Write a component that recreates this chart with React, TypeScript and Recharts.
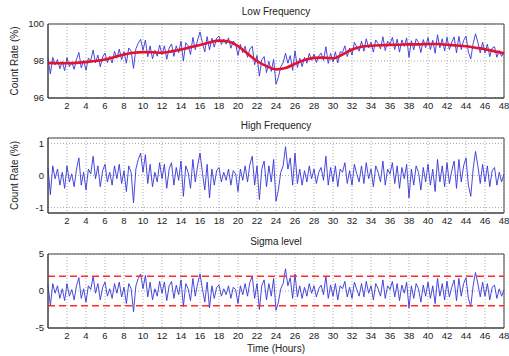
import React from 'react';
import {
  LineChart,
  Line,
  XAxis,
  YAxis,
  CartesianGrid,
  ReferenceLine,
  ReferenceArea,
} from 'recharts';

// sample spacing of the blue traces (hours)
const SAMPLE_STEP = 0.25;

// Low frequency panel: raw count rate (%), one value per quarter hour
const lowRaw = [
  98.15, 97.30, 98.19, 97.79, 98.08, 97.58, 97.98, 97.48, 98.18, 97.69, 97.94, 97.55,
  98.10, 98.46, 97.63, 98.04, 97.50, 98.16, 98.03, 98.59, 97.90, 98.32, 97.69, 98.21,
  98.43, 97.92, 98.25, 97.89, 98.52, 98.15, 98.64, 98.07, 98.50, 97.88, 98.70, 98.53,
  97.60, 98.66, 98.97, 99.17, 98.58, 99.13, 98.23, 98.82, 98.12, 98.57, 98.26, 98.86,
  98.35, 98.82, 98.09, 98.70, 98.92, 98.25, 98.82, 98.45, 99.07, 98.00, 98.99, 98.82,
  98.35, 99.28, 98.61, 99.14, 99.57, 99.00, 98.49, 99.32, 98.60, 99.23, 98.75, 99.23,
  99.35, 98.89, 99.18, 98.91, 99.25, 98.69, 99.08, 98.91, 98.30, 98.90, 98.45, 98.80,
  98.20, 98.65, 98.80, 97.80, 98.30, 97.18, 98.06, 98.24, 97.37, 97.98, 97.44, 98.09,
  96.75, 97.12, 97.69, 97.90, 98.42, 97.88, 98.29, 97.49, 98.55, 97.65, 98.15, 97.70,
  98.20, 97.88, 98.41, 98.04, 98.37, 97.92, 98.27, 98.43, 98.03, 98.77, 97.87, 98.41,
  97.95, 98.50, 97.90, 98.50, 98.45, 98.82, 98.24, 98.70, 98.32, 99.01, 98.75, 98.53,
  99.07, 98.53, 99.20, 98.71, 99.02, 98.48, 99.14, 98.94, 98.65, 99.31, 98.56, 99.07,
  98.92, 99.27, 98.62, 99.18, 98.48, 99.14, 98.79, 99.25, 98.20, 99.10, 98.60, 99.20,
  99.00, 98.46, 99.16, 98.72, 99.27, 98.62, 99.12, 98.42, 99.42, 98.71, 99.20, 98.54,
  99.28, 98.62, 99.01, 99.30, 98.44, 99.33, 98.62, 99.11, 99.35, 98.48, 98.11, 98.94,
  99.47, 99.00, 98.43, 99.01, 98.44, 98.91, 98.23, 98.70, 98.77, 98.20, 98.57, 98.25,
  98.47,
];

// Low frequency panel: smoothed trend (%), one value per hour
const lowTrend = [
  97.9, 97.88, 97.88, 97.9, 97.95, 98.0, 98.08, 98.22, 98.35, 98.45, 98.48, 98.47,
  98.45, 98.52, 98.62, 98.75, 98.87, 99.0, 99.1, 99.05, 98.8, 98.4, 98.0, 97.72,
  97.55, 97.62, 97.85, 98.05, 98.17, 98.18, 98.15, 98.35, 98.62, 98.77, 98.82, 98.85,
  98.87, 98.88, 98.9, 98.9, 98.92, 98.92, 98.88, 98.84, 98.8, 98.72, 98.64, 98.52,
  98.42,
];

// High frequency panel (%), one value per quarter hour
const highFreq = [
  0.25, -0.6, 0.3, -0.1, 0.2, -0.3, 0.1, -0.4, 0.3, -0.2, 0.05, -0.35,
  0.2, 0.55, -0.3, 0.1, -0.45, 0.2, 0.05, 0.6, -0.1, 0.3, -0.35, 0.15,
  0.35, -0.2, 0.1, -0.3, 0.3, -0.1, 0.35, -0.25, 0.15, -0.5, 0.3, 0.1,
  -0.85, 0.2, 0.5, 0.7, 0.1, 0.65, -0.25, 0.35, -0.35, 0.1, -0.2, 0.4,
  -0.1, 0.35, -0.4, 0.2, 0.4, -0.3, 0.25, -0.15, 0.45, -0.65, 0.3, 0.1,
  -0.4, 0.5, -0.2, 0.3, 0.7, 0.1, -0.45, 0.35, -0.7, 0.2, -0.3, 0.15,
  0.25, -0.2, 0.1, -0.15, 0.2, -0.3, 0.15, 0.05, -0.5, 0.2, -0.15, 0.3,
  -0.2, 0.35, 0.6, -0.3, 0.3, -0.75, 0.2, 0.45, -0.35, 0.3, -0.2, 0.5,
  -0.8, -0.45, 0.1, 0.3, 0.9, 0.2, 0.55, -0.3, 0.7, -0.25, 0.2, -0.3,
  0.15, -0.2, 0.3, -0.1, 0.2, -0.25, 0.1, 0.25, -0.15, 0.6, -0.3, 0.25,
  -0.2, 0.3, -0.35, 0.2, 0.1, 0.4, -0.25, 0.15, -0.3, 0.35, 0.05, -0.2,
  0.3, -0.25, 0.4, -0.1, 0.2, -0.35, 0.3, 0.1, -0.2, 0.45, -0.3, 0.2,
  0.05, 0.4, -0.25, 0.3, -0.4, 0.25, -0.1, 0.35, -0.7, 0.2, -0.3, 0.3,
  0.1, -0.45, 0.25, -0.2, 0.35, -0.3, 0.2, -0.5, 0.5, -0.2, 0.3, -0.35,
  0.4, -0.25, 0.15, 0.45, -0.4, 0.5, -0.2, 0.3, 0.55, -0.3, -0.65, 0.2,
  0.75, 0.3, -0.25, 0.35, -0.2, 0.3, -0.35, 0.15, 0.25, -0.3, 0.1, -0.2,
  0.05,
];

// Sigma level panel, one value per quarter hour
const sigmaLevel = [
  0.8, -2.0, 1.0, -0.3, 0.7, -1.0, 0.3, -1.3, 1.0, -0.7, 0.2, -1.2,
  0.7, 1.8, -1.0, 0.3, -1.5, 0.7, 0.2, 2.0, -0.3, 1.0, -1.2, 0.5,
  1.2, -0.7, 0.3, -1.0, 1.0, -0.3, 1.2, -0.8, 0.5, -1.7, 1.0, 0.3,
  -2.8, 0.7, 1.7, 2.3, 0.3, 2.1, -0.8, 1.2, -1.2, 0.3, -0.7, 1.3,
  -0.3, 1.2, -1.3, 0.7, 1.3, -1.0, 0.8, -0.5, 1.5, -2.1, 1.0, 0.3,
  -1.3, 1.7, -0.7, 1.0, 2.3, 0.3, -1.5, 1.2, -2.3, 0.7, -1.0, 0.5,
  0.8, -0.7, 0.3, -0.5, 0.7, -1.0, 0.5, 0.2, -1.7, 0.7, -0.5, 1.0,
  -0.7, 1.2, 2.0, -1.0, 1.0, -2.5, 0.7, 1.5, -1.2, 1.0, -0.7, 1.7,
  -2.6, -1.5, 0.3, 1.0, 3.0, 0.7, 1.8, -1.0, 2.3, -0.8, 0.7, -1.0,
  0.5, -0.7, 1.0, -0.3, 0.7, -0.8, 0.3, 0.8, -0.5, 2.0, -1.0, 0.8,
  -0.7, 1.0, -1.2, 0.7, 0.3, 1.3, -0.8, 0.5, -1.0, 1.2, 0.2, -0.7,
  1.0, -0.8, 1.3, -0.3, 0.7, -1.2, 1.0, 0.3, -0.7, 1.5, -1.0, 0.7,
  0.2, 1.3, -0.8, 1.0, -1.3, 0.8, -0.3, 1.2, -2.3, 0.7, -1.0, 1.0,
  0.3, -1.5, 0.8, -0.7, 1.2, -1.0, 0.7, -1.7, 1.7, -0.7, 1.0, -1.2,
  1.3, -0.8, 0.5, 1.5, -1.3, 1.7, -0.7, 1.0, 1.8, -1.0, -2.1, 0.7,
  2.5, 1.0, -0.8, 1.2, -0.7, 1.0, -1.2, 0.5, 0.8, -1.0, 0.3, -0.7,
  0.2,
];

const sigmaLimits = [2, -2];

const hourTicks = [2, 4, 6, 8, 10, 12, 14, 16, 18, 20, 22, 24, 26, 28, 30, 32, 34, 36, 38, 40, 42, 44, 46, 48];
const lowTicks = [96, 98, 100];
const highTicks = [-1, 0, 1];
const sigmaTicks = [-5, 0, 5];

const rows = lowRaw.map((v, i) => ({
  t: i * SAMPLE_STEP,
  raw: v,
  hf: highFreq[i],
  sigma: sigmaLevel[i],
  trend: i % 4 === 0 ? lowTrend[i / 4] : null,
}));

const FONT = '"Liberation Sans", Arial, sans-serif';
const BLUE = '#3434d8';
const tickStyle = { fontSize: 9.5, fill: '#222', fontFamily: FONT };

const Panel = ({
  top,
  height,
  marginTop,
  xHeight,
  title,
  domain,
  yTicks,
  dataKey,
  yLabel,
  xLabel,
  children,
}: any) => (
  <div style={{ position: 'absolute', left: 0, top, width: 509, height }}>
    <div
      style={{
        position: 'absolute',
        left: 48,
        width: 456,
        top: marginTop - 18,
        textAlign: 'center',
        fontFamily: FONT,
        fontSize: 10,
        color: '#222',
      }}
    >
      {title}
    </div>
    <LineChart width={509} height={height} data={rows} margin={{ top: marginTop, right: 5, bottom: 0, left: 0 }}>
      <CartesianGrid stroke="#aaa" strokeDasharray="1 2" />
      <XAxis
        dataKey="t"
        type="number"
        domain={[0, 48]}
        ticks={hourTicks}
        interval={0}
        height={xHeight}
        tickSize={3}
        tickMargin={1}
        tickLine={false}
        axisLine={{ stroke: '#444' }}
        tick={tickStyle}
        label={xLabel ? { value: xLabel, position: 'insideBottom', offset: 4, style: { fontSize: 10, fill: '#222', fontFamily: FONT } } : undefined}
      />
      <YAxis
        type="number"
        domain={domain}
        ticks={yTicks}
        allowDataOverflow
        width={48}
        tickSize={3}
        tickMargin={1}
        tickLine={false}
        axisLine={{ stroke: '#444' }}
        tick={tickStyle}
        label={yLabel ? { value: yLabel, angle: -90, position: 'insideLeft', offset: 14, style: { fontSize: 10, fill: '#222', fontFamily: FONT, textAnchor: 'middle' } } : undefined}
      />
      <ReferenceArea x1={0} x2={48} y1={domain[0]} y2={domain[1]} fill="none" stroke="#444" strokeWidth={1} ifOverflow="extendDomain" />
      <Line type="linear" dataKey={dataKey} stroke={BLUE} strokeWidth={0.9} dot={false} isAnimationActive={false} />
      {children}
    </LineChart>
  </div>
);

export default function App() {
  return (
    <div style={{ position: 'absolute', left: 0, top: 0, width: 509, height: 356, background: '#fff' }}>
      <Panel top={0} height={115} marginTop={24} xHeight={17} title="Low Frequency" domain={[96, 100]} yTicks={lowTicks} dataKey="raw" yLabel="Count Rate (%)">
        <Line
          type="monotone"
          dataKey="trend"
          connectNulls
          stroke="#e3122d"
          strokeWidth={2.6}
          dot={false}
          isAnimationActive={false}
        />
      </Panel>
      <Panel top={115} height={115} marginTop={23} xHeight={17} title="High Frequency" domain={[-1.17, 1.17]} yTicks={highTicks} dataKey="hf" yLabel="Count Rate (%)" />
      <Panel top={230} height={126} marginTop={24} xHeight={28} title="Sigma level" domain={[-5, 5]} yTicks={sigmaTicks} dataKey="sigma" xLabel="Time (Hours)">
        {sigmaLimits.map((y) => (
          <ReferenceLine key={y} y={y} stroke="#ff2a2a" strokeWidth={1.6} strokeDasharray="7 4" />
        ))}
      </Panel>
    </div>
  );
}
